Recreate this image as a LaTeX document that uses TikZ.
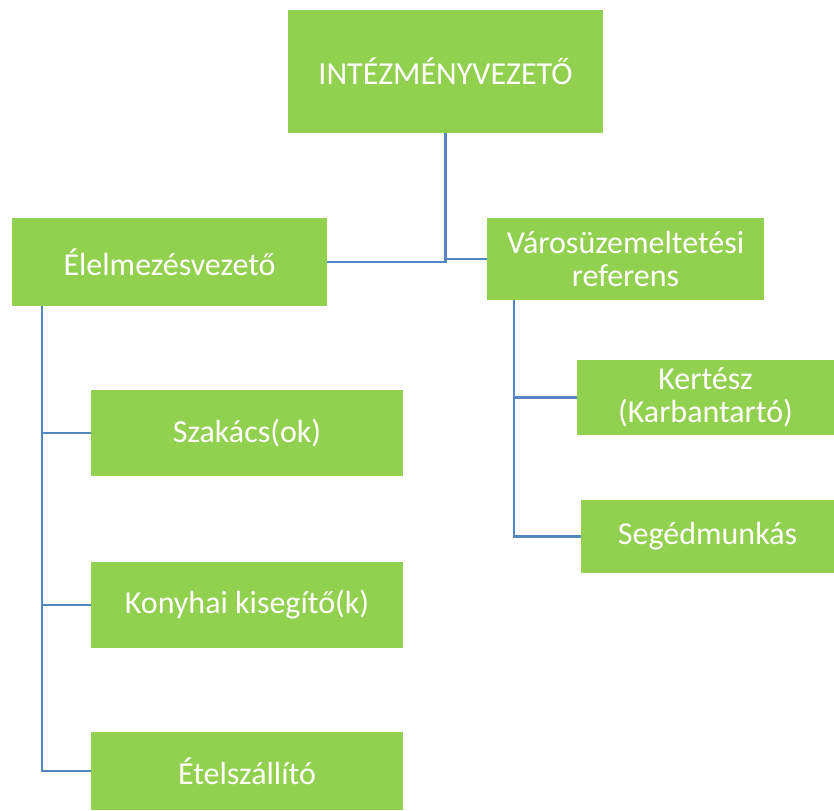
\documentclass[tikz,border=0pt]{standalone}
\usepackage{fontspec}
\setmainfont{Carlito}
\definecolor{boxgreen}{RGB}{146,208,80}
\definecolor{linkblue}{RGB}{84,134,192}
\tikzset{
  unit/.style={fill=boxgreen,text=white,align=center,inner sep=0pt,
    font=\fontsize{32}{33}\selectfont},
  link/.style={draw=linkblue,line width=2.4pt}
}
\begin{document}
\begin{tikzpicture}[x=1pt,y=-1pt]
\useasboundingbox (0,0) rectangle (834,810);

\node[unit,minimum width=315,minimum height=123] (vezeto) at (445.5,71.5) {INTÉZMÉNYVEZETŐ};
\node[unit,minimum width=315,minimum height=88] (elelmezes) at (169.5,262) {Élelmezésvezető};
\node[unit,minimum width=277,minimum height=82] (varos) at (625.5,259) {Városüzemeltetési\\referens};

\node[unit,minimum width=312,minimum height=86] (szakacs) at (247,433) {Szakács(ok)};
\node[unit,minimum width=312,minimum height=86] (konyhai) at (247,605) {Konyhai kisegítő(k)};
\node[unit,minimum width=312,minimum height=78] (etel) at (247,771) {Ételszállító};

\node[unit,minimum width=257,minimum height=75] (kertesz) at (705.5,397.5) {Kertész\\(Karbantartó)};
\node[unit,minimum width=253,minimum height=73] (seged) at (707.5,536.5) {Segédmunkás};

\draw[link]
(vezeto.south) |- (elelmezes.east)
(vezeto.south) |- (varos.west);

\coordinate (bal) at ([xshift=30pt]elelmezes.south west);
\draw[link]
(bal) |- (szakacs.west)
(bal) |- (konyhai.west)
(bal) |- (etel.west);

\coordinate (jobb) at ([xshift=27pt]varos.south west);
\draw[link]
(jobb) |- (kertesz.west)
(jobb) |- (seged.west);

\end{tikzpicture}
\end{document}
